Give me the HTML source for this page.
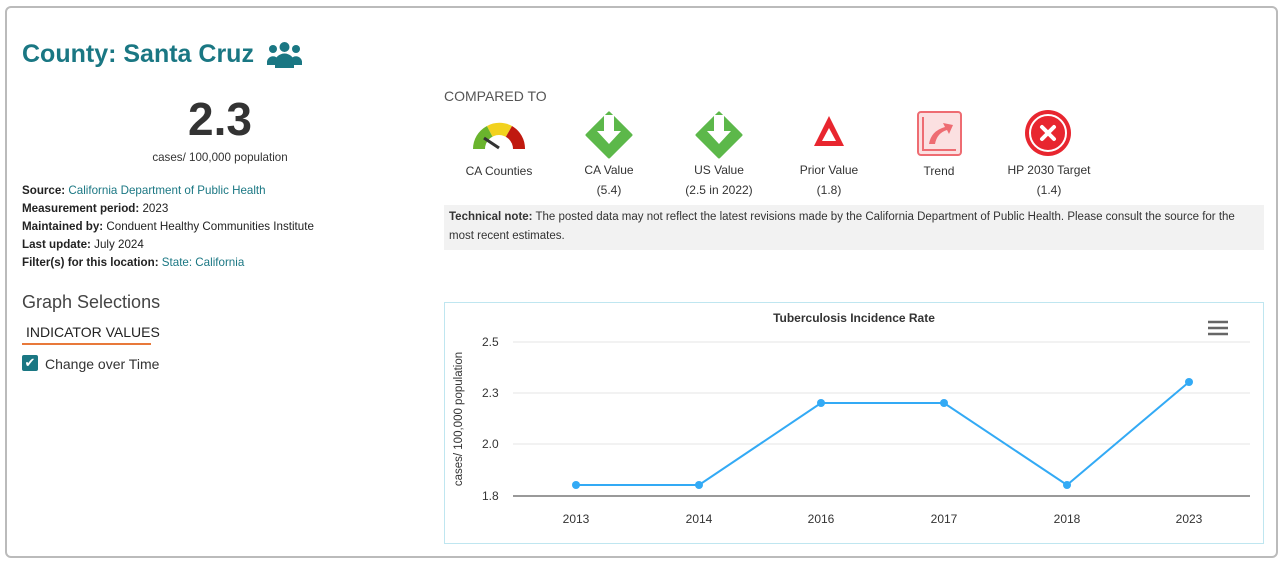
<!DOCTYPE html>
<html><head><style>
body{margin:0;width:1285px;height:564px;background:#fff;font-family:"Liberation Sans",sans-serif;position:relative;overflow:hidden;color:#333}
.card{position:absolute;left:5px;top:6px;width:1273px;height:552px;border:2px solid #bbb;border-radius:6px;box-sizing:border-box}
.a{position:absolute}
.t{color:#1a7783}
.lab{font-size:12px;color:#333;text-align:center;width:130px}
.meta{font-size:11.6px;line-height:18px;color:#222}
.meta b{font-weight:bold}
</style></head><body>
<div class="card"></div>
<div class="a" style="left:22px;top:40px;font-size:25px;font-weight:bold;color:#1a7783">County: Santa Cruz</div>
<svg class="a" style="left:267px;top:41px" width="35" height="28" viewBox="0 0 35 28"><circle cx="17.5" cy="6" r="5" fill="#1a7783"/><circle cx="6" cy="8" r="4" fill="#1a7783"/><circle cx="29" cy="8" r="4" fill="#1a7783"/><path d="M8 27v-6a9 8 0 0 1 19 0v6z" fill="#1a7783"/><path d="M0 22a6 6 0 0 1 11-4l-2 6H0z M35 22a6 6 0 0 0-11-4l2 6h9z" fill="#1a7783"/></svg>
<div class="a" style="left:150px;top:92px;width:140px;text-align:center;font-size:46px;font-weight:bold;color:#333">2.3</div>
<div class="a" style="left:120px;top:151px;width:200px;text-align:center;font-size:11.6px">cases/ 100,000 population</div>
<div class="a meta" style="left:22px;top:182px">
<div><b>Source:</b> <span class="t">California Department of Public Health</span></div>
<div><b>Measurement period:</b> 2023</div>
<div><b>Maintained by:</b> Conduent Healthy Communities Institute</div>
<div><b>Last update:</b> July 2024</div>
<div><b>Filter(s) for this location:</b> <span class="t">State: California</span></div>
</div>
<div class="a" style="left:22px;top:292px;font-size:18px;color:#444">Graph Selections</div>
<div class="a" style="left:26px;top:324px;font-size:14px;color:#222">INDICATOR VALUES</div>
<div class="a" style="left:22px;top:343px;width:129px;height:2px;background:#e8793a"></div>
<div class="a" style="left:22px;top:355px;width:16px;height:16px;background:#1a7783;border-radius:2px;color:#fff;font-size:13px;text-align:center;line-height:16px">✔</div>
<div class="a" style="left:45px;top:356px;font-size:14px;color:#333">Change over Time</div>

<div class="a" style="left:444px;top:88px;font-size:14px;color:#555">COMPARED TO</div>
<svg class="a" style="left:472px;top:118px" width="54" height="32"><path d="M1 31A26 26 0 0 1 15 8L27 31z" fill="#6ab42d"/><path d="M15 8A26 26 0 0 1 40 8L27 31z" fill="#f2d21e"/><path d="M40 8A26 26 0 0 1 53 31L27 31z" fill="#c0190f"/><circle cx="27" cy="31" r="14" fill="#fff"/><path d="M27 30L12 20" stroke="#333" stroke-width="3"/></svg>
<svg class="a" style="left:585px;top:111px" width="48" height="48" viewBox="0 0 48 48"><path d="M24 2L46 24L24 46L2 24z" fill="#5cb84a" stroke="#5cb84a" stroke-linejoin="round" stroke-width="3"/><path d="M19 4h10v16h7L24 33L12 20h7z" fill="#fff"/></svg>
<svg class="a" style="left:695px;top:111px" width="48" height="48" viewBox="0 0 48 48"><path d="M24 2L46 24L24 46L2 24z" fill="#5cb84a" stroke="#5cb84a" stroke-linejoin="round" stroke-width="3"/><path d="M19 4h10v16h7L24 33L12 20h7z" fill="#fff"/></svg>
<svg class="a" style="left:812px;top:114px" width="34" height="34"><path d="M17 2L32 32H2z" fill="#e8262f"/><path d="M17 14L24 27H10z" fill="#fff"/></svg>
<svg class="a" style="left:917px;top:111px" width="45" height="45"><rect x="1" y="1" width="43" height="43" rx="3" fill="#fbe0e1" stroke="#ee6c72" stroke-width="2"/><path d="M6 6v33h33" stroke="#ee6c72" stroke-width="2" fill="none"/><path d="M12 33Q14 20 28 16l-2-4 10 2-4 9-2-4Q20 22 18 33z" fill="#ee6c72"/></svg>
<svg class="a" style="left:1024px;top:109px" width="48" height="48"><circle cx="24" cy="24" r="23" fill="#e8262f"/><circle cx="24" cy="24" r="18" fill="none" stroke="#fff" stroke-width="2"/><path d="M18 18l12 12M30 18l-12 12" stroke="#fff" stroke-width="4" stroke-linecap="round"/></svg>
<div class="a lab" style="left:434px;top:164px">CA Counties</div>
<div class="a lab" style="left:544px;top:160px;line-height:20px">CA Value<br>(5.4)</div>
<div class="a lab" style="left:654px;top:160px;line-height:20px">US Value<br>(2.5 in 2022)</div>
<div class="a lab" style="left:764px;top:160px;line-height:20px">Prior Value<br>(1.8)</div>
<div class="a lab" style="left:874px;top:164px">Trend</div>
<div class="a lab" style="left:984px;top:160px;line-height:20px">HP 2030 Target<br>(1.4)</div>
<div class="a" style="left:444px;top:205px;width:820px;height:45px;background:#f2f2f2;box-sizing:border-box;padding:3px 5px;font-size:11.5px;line-height:19px;color:#333"><b>Technical note:</b> The posted data may not reflect the latest revisions made by the California Department of Public Health. Please consult the source for the most recent estimates.</div>

<svg class="a" style="left:444px;top:302px" width="820" height="242">
<rect x="0.5" y="0.5" width="819" height="241" fill="#fff" stroke="#bfe6f0"/>
<text x="410" y="20" font-size="12" font-weight="bold" text-anchor="middle" fill="#333" font-family="Liberation Sans">Tuberculosis Incidence Rate</text>
<path d="M764 20h20M764 26h20M764 32h20" stroke="#666" stroke-width="2.5"/>
<g stroke="#e6e6e6"><path d="M69 40H806M69 91H806M69 142H806"/></g>
<path d="M69 194H806" stroke="#333"/>
<g font-size="12" fill="#333" font-family="Liberation Sans"><text x="38" y="44">2.5</text><text x="38" y="95">2.3</text><text x="38" y="146">2.0</text><text x="38" y="198">1.8</text>
<g text-anchor="middle"><text x="132" y="221">2013</text><text x="255" y="221">2014</text><text x="377" y="221">2016</text><text x="500" y="221">2017</text><text x="623" y="221">2018</text><text x="745" y="221">2023</text></g>
<text transform="translate(18,117) rotate(-90)" text-anchor="middle" font-size="11.5">cases/ 100,000 population</text></g>
<polyline points="132,183 255,183 377,101 500,101 623,183 745,80" fill="none" stroke="#33aaf5" stroke-width="2"/>
<g fill="#33aaf5"><circle cx="132" cy="183" r="4"/><circle cx="255" cy="183" r="4"/><circle cx="377" cy="101" r="4"/><circle cx="500" cy="101" r="4"/><circle cx="623" cy="183" r="4"/><circle cx="745" cy="80" r="4"/></g>
</svg>
</body></html>
